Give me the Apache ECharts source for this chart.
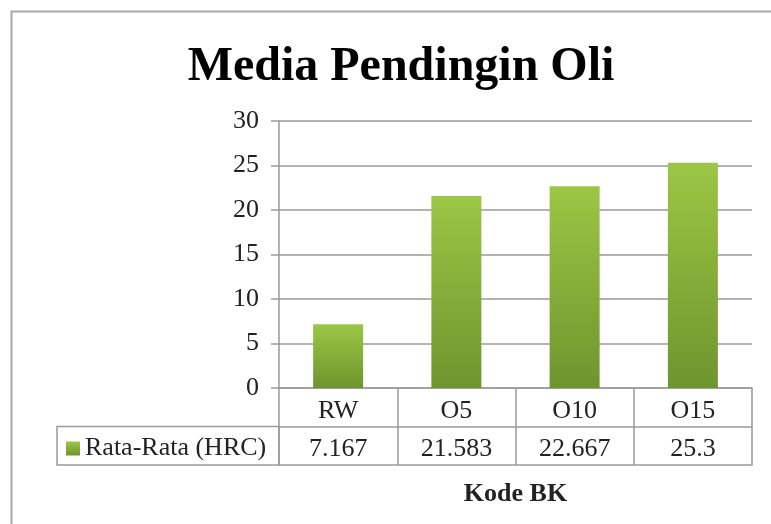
<!DOCTYPE html>
<html>
<head>
<meta charset="utf-8">
<script src="https://cdn.jsdelivr.net/npm/echarts@6/dist/echarts.min.js"></script>
<style>
  html, body { margin: 0; padding: 0; background: #fff; }
  #chart { width: 771px; height: 524px; }
</style>
</head>
<body>
<div id="chart"></div>
<script>
// Hardness (HRC) by oil-quench code
const categories = ['RW', 'O5', 'O10', 'O15'];
const hardness = [7.167, 21.583, 22.667, 25.3];
const seriesName = 'Rata-Rata (HRC)';
const chartTitle = 'Media Pendingin Oli';
const xAxisTitle = 'Kode BK';
const yMin = 0, yMax = 30, yStep = 5;

const serif = '"Liberation Serif", "DejaVu Serif", serif';
const lineColor = '#9a9a9a';
const textColor = '#222';
const fs = 26;

// Plot box
const G = { left: 279, top: 121, right: 19, bottom: 136 };
const W = 771, H = 524;
const rowH = 38.5;
const axisY = H - G.bottom;

const barFill = new echarts.graphic.LinearGradient(0, 0, 0, 1, [
  { offset: 0, color: '#9cc645' },
  { offset: 1, color: '#6e952e' }
]);

const chart = echarts.init(document.getElementById('chart'), null, { renderer: 'canvas' });

chart.setOption({
  animation: false,
  backgroundColor: '#fff',
  title: {
    text: chartTitle,
    left: 396,
    top: 39,
    textAlign: 'center',
    textStyle: { fontFamily: serif, fontWeight: 'bold', fontSize: 48, color: '#000' }
  },
  legend: {
    data: [seriesName],
    left: 66,
    top: axisY + rowH + 9,
    itemWidth: 14,
    itemHeight: 14,
    padding: 0,
    icon: 'rect',
    textStyle: { fontFamily: serif, fontSize: fs, color: textColor }
  },
  grid: { left: G.left, top: G.top, right: G.right, bottom: G.bottom },
  xAxis: [
    {
      // category row of the data table; ticks form the column dividers
      type: 'category',
      data: categories,
      position: 'bottom',
      axisLine: { show: true, lineStyle: { color: lineColor, width: 1.5 } },
      axisTick: { show: true, length: rowH * 2, lineStyle: { color: lineColor, width: 1.5 } },
      axisLabel: { fontFamily: serif, fontSize: fs, color: textColor, margin: 10, lineHeight: 26 },
      splitLine: { show: false }
    },
    {
      // value row of the data table
      type: 'category',
      data: categories,
      position: 'bottom',
      offset: rowH,
      axisLine: { show: true, lineStyle: { color: lineColor, width: 1.5 } },
      axisTick: { show: false },
      axisLabel: {
        fontFamily: serif, fontSize: fs, color: textColor, margin: 10, lineHeight: 26,
        formatter: (v, i) => String(hardness[i])
      }
    },
    {
      // bottom edge of the table and the axis title
      type: 'category',
      data: categories,
      position: 'bottom',
      offset: rowH * 2,
      axisLine: { show: true, lineStyle: { color: lineColor, width: 1.5 } },
      axisTick: { show: false },
      axisLabel: { show: false },
      name: xAxisTitle,
      nameLocation: 'middle',
      nameGap: 16,
      nameTextStyle: { fontFamily: serif, fontWeight: 'bold', fontSize: fs, color: textColor }
    }
  ],
  yAxis: {
    type: 'value',
    min: yMin,
    max: yMax,
    interval: yStep,
    axisLine: { show: true, lineStyle: { color: lineColor, width: 1.5 } },
    axisTick: { show: true, length: 8, lineStyle: { color: lineColor, width: 1.5 } },
    axisLabel: { fontFamily: serif, fontSize: fs, color: textColor, margin: 20 },
    splitLine: { show: true, lineStyle: { color: lineColor, width: 1.5 } }
  },
  series: [{
    name: seriesName,
    type: 'bar',
    data: hardness,
    barWidth: 50,
    itemStyle: { color: barFill }
  }],
  graphic: [
    {
      // outer chart frame
      type: 'rect',
      silent: true,
      shape: { x: 11.5, y: 11.5, width: W + 20, height: H + 20 },
      style: { fill: null, stroke: '#a8a8a8', lineWidth: 2 }
    },
    {
      // legend cell of the data table
      type: 'rect',
      silent: true,
      shape: { x: 57, y: axisY + rowH, width: G.left - 57, height: rowH },
      style: { fill: null, stroke: lineColor, lineWidth: 1.5 }
    }
  ]
});
</script>
</body>
</html>
